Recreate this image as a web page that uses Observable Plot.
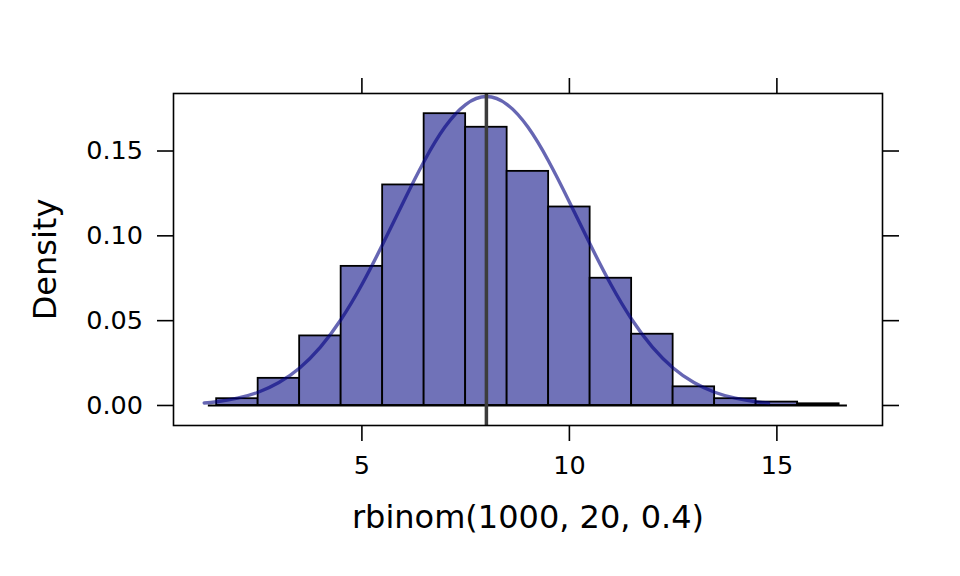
<!DOCTYPE html>
<html>
<head>
<meta charset="utf-8">
<script src="https://cdn.jsdelivr.net/npm/d3@7"></script>
<script src="https://cdn.jsdelivr.net/npm/@observablehq/plot@0.6"></script>
<style>
  body { margin: 0; background: #fff; }
</style>
</head>
<body>
<div id="chart"></div>
<script>
// histograma de rbinom(1000, 20, 0.4) con curva normal ajustada

const binCenters = [2, 3, 4, 5, 6, 7, 8, 9, 10, 11, 12, 13, 14, 15, 16]
const densities = [0.004, 0.016, 0.041, 0.082, 0.130, 0.172, 0.164, 0.138, 0.117, 0.075, 0.042, 0.011, 0.004, 0.002, 0.001]

// puntos de la curva
const curveX = [1.2, 1.5, 2, 2.5, 3, 3.5, 4, 4.5, 5, 5.5, 6, 6.5, 7, 7.5, 8, 8.5, 9, 9.5, 10, 10.5, 11, 11.5, 12, 12.5, 13, 13.5, 14, 14.5, 14.8]
const curveY = [0.0015, 0.0022, 0.0043, 0.0078, 0.0135, 0.0221, 0.0344, 0.0508, 0.0713, 0.0950, 0.1200, 0.1440, 0.1641, 0.1774, 0.1821,
                0.1774, 0.1641, 0.1440, 0.1200, 0.0950, 0.0713, 0.0508, 0.0344, 0.0221, 0.0135, 0.0078, 0.0043, 0.0022, 0.0015]

const meanValue = 8
const xTicks = [5, 10, 15]
const yTicks = [0, 0.05, 0.10, 0.15]
const xTitle = "rbinom(1000, 20, 0.4)"
const yTitle = "Density"

const bins = binCenters.map((c, i) => ({center: c, density: densities[i]}))
const curve = curveX.map((x, i) => ({x: x, y: curveY[i]}))

let chart = Plot.plot({
  width: 960,
  height: 576,
  marginLeft: 173,
  marginRight: 78,
  marginTop: 93,
  marginBottom: 151,
  style: {fontFamily: "DejaVu Sans", fontSize: "25.5px", background: "#fff", color: "#000"},
  x: {domain: [0.46, 17.545]},
  y: {domain: [-0.0118, 0.1839]},
  marks: [
    Plot.rectY(bins, {
      x1: d => d.center - 0.5, x2: d => d.center + 0.5,
      y1: 0, y2: "density",
      fill: "#7072b8", stroke: "#000", strokeWidth: 1.8
    }),
    Plot.ruleY([0], {x1: 1.3, x2: 16.7, stroke: "#000", strokeWidth: 1.8}),
    Plot.line(curve, {x: "x", y: "y", curve: "natural", stroke: "#000080", strokeOpacity: 0.6, strokeWidth: 3.4}),
    Plot.ruleX([meanValue], {stroke: "#3c3c3c", strokeWidth: 3.5}),
    Plot.frame({stroke: "#000", strokeWidth: 1.6}),

    Plot.axisX({anchor: "bottom", ticks: xTicks, tickSize: 16, tickPadding: 14, strokeWidth: 1.6, label: null}),
    Plot.axisX({anchor: "top", ticks: xTicks, tickSize: 16, tickFormat: () => "", strokeWidth: 1.6, label: null}),
    Plot.axisY({anchor: "left", ticks: yTicks, tickSize: 16, tickPadding: 14.5, tickFormat: d3.format(".2f"), strokeWidth: 1.6, label: null}),
    Plot.axisY({anchor: "right", ticks: yTicks, tickSize: 16, tickFormat: () => "", strokeWidth: 1.6, label: null}),

    Plot.text([xTitle], {frameAnchor: "bottom", dy: 102, text: d => d, fontSize: 32}),
    Plot.text([yTitle], {frameAnchor: "left", dx: -128, rotate: -90, textAnchor: "middle", text: d => d, fontSize: 32})
  ]
})

d3.select('#chart').append(() => chart)
</script>
</body>
</html>
